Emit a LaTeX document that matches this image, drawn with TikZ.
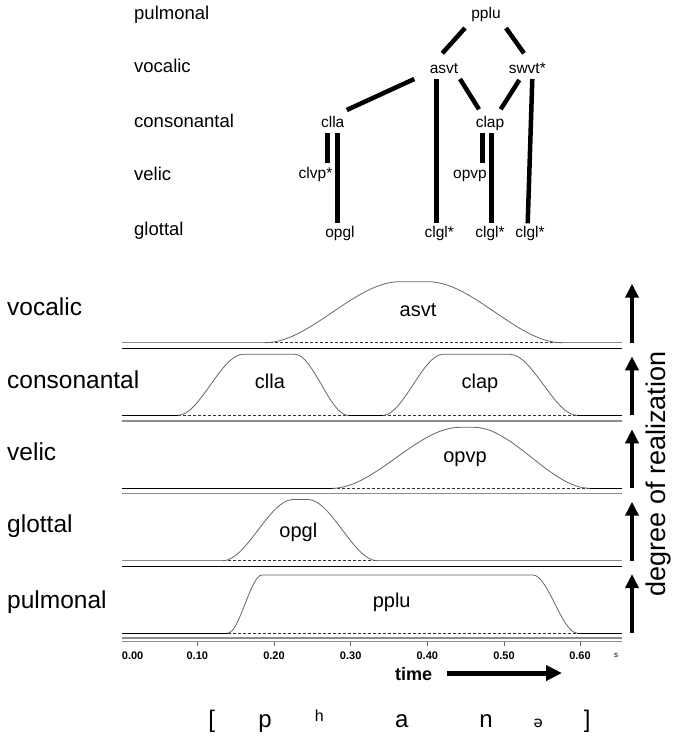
\documentclass[tikz,border=0pt]{standalone}
\usepackage{fontspec}
\setmainfont{Liberation Sans}
\newfontfamily\ipafont{DejaVu Sans}
\usetikzlibrary{arrows.meta}

\tikzset{
  treelab/.style={font=\fontsize{15.5}{15.5}\selectfont, anchor=base, inner sep=0pt},
  tierlab/.style={font=\fontsize{18.5}{18.5}\selectfont, anchor=base west, inner sep=0pt},
  link/.style={line width=4.5pt},
  panellab/.style={font=\fontsize{24.5}{25}\selectfont, anchor=base west, inner sep=0pt},
  gestlab/.style={font=\fontsize{20}{20}\selectfont, anchor=base, inner sep=0pt},
  curve/.style={draw=black!60, line width=0.8pt},
  flatblack/.style={draw=black, line width=0.8pt},
  flatgray/.style={draw=black!45, line width=1.4pt},
  rest/.style={draw=black!80, line width=0.7pt, dash pattern=on 3pt off 2pt},
  realarrow/.style={line width=4.5pt, -{Triangle[width=13pt,length=14pt]}},
  ticklab/.style={font=\fontsize{11}{11}\selectfont\bfseries, anchor=base, inner sep=0pt},
  tickmark/.style={draw=black!60, line width=0.8pt},
  phon/.style={font=\fontsize{24}{24}\selectfont, anchor=base, inner sep=0pt}
}

\begin{document}
\begin{tikzpicture}[x=1pt,y=-1pt]
\useasboundingbox[fill=white] (0,0) rectangle (676,737);

% ---------- tier names of the gesture tree ----------
\node[tierlab] (tPul) at (134,19.5) {pulmonal};
\node[tierlab] (tVoc) at (134,72) {vocalic};
\node[tierlab] (tCon) at (134,127) {consonantal};
\node[tierlab] (tVel) at (134,180) {velic};
\node[tierlab] (tGlo) at (134,235) {glottal};

% ---------- gesture tree ----------
\node[treelab] (pplu) at (486,18.5) {pplu};
\node[treelab] (asvt) at (444,73) {asvt};
\node[treelab] (swvt) at (527.3,73) {swvt*};
\node[treelab] (clla) at (332.7,127) {clla};
\node[treelab] (clap) at (490,127) {clap};
\node[treelab] (clvp) at (315.5,178) {clvp*};
\node[treelab] (opvp) at (470,178) {opvp};
\node[treelab] (opgl) at (340,237) {opgl};
\node[treelab] (clglA) at (439.3,237) {clgl*};
\node[treelab] (clglB) at (490,237) {clgl*};
\node[treelab] (clglC) at (530,237) {clgl*};

\draw[link] ([shift={(-21,9.5)}]pplu.base) -- ([shift={(-1.7,-19.7)}]asvt.base);
\draw[link] ([shift={(20,9.5)}]pplu.base) -- ([shift={(-3.3,-19.7)}]swvt.base);
\draw[link] ([shift={(-29.7,6)}]asvt.base) -- ([shift={(14,-17)}]clla.base);
\draw[link] ([shift={(-7.3,6)}]asvt.base) -- ([shift={(-2.6,-13.7)}]clglA.base);
\draw[link] ([shift={(16,6)}]asvt.base) -- ([shift={(-11,-17.7)}]clap.base);
\draw[link] ([shift={(-8,7)}]swvt.base) -- ([shift={(10.7,-17.7)}]clap.base);
\draw[link] ([shift={(5,6)}]swvt.base) -- ([shift={(-2.3,-13.7)}]clglC.base);
\draw[link] ([shift={(-5,6.3)}]clla.base) -- ([shift={(12.2,-14.7)}]clvp.base);
\draw[link] ([shift={(4.6,6.3)}]clla.base) -- ([shift={(-2.7,-13.7)}]opgl.base);
\draw[link] ([shift={(-7.7,6.3)}]clap.base) -- ([shift={(12.3,-14.7)}]opvp.base);
\draw[link] ([shift={(1.3,6.3)}]clap.base) -- ([shift={(1.3,-13.7)}]clglB.base);

% ---------- gestural score: panel names ----------
\node[panellab] (pVoc) at (7,315) {vocalic};
\node[panellab] (pCon) at (7,388) {consonantal};
\node[panellab] (pVel) at (7,460.5) {velic};
\node[panellab] (pGlo) at (7,532.5) {glottal};
\node[panellab] (pPul) at (7,608) {pulmonal};

% vocalic panel (baseline 342.7)
\draw[flatgray] (122,342.7) -- (265,342.7);
\draw[flatgray] (562,342.7) -- (622,342.7);
\draw[rest] (265,342.7) -- (562,342.7);
\draw[curve] (265,342.7) .. controls (310,342.7) and (355,281.7) .. (400,281.7)
  -- (428,281.7) .. controls (472.7,281.7) and (517.3,342.7) .. (562,342.7);
\draw[flatblack] (122,348.5) -- (622,348.5);
\node[gestlab] (gAsvt) at (418,316.7) {asvt};

% consonantal panel (baseline 415.3)
\draw[flatblack] (122,415.3) -- (178,415.3);
\draw[flatblack] (348,415.3) -- (383,415.3);
\draw[flatblack] (577,415.3) -- (622,415.3);
\draw[rest] (178,415.3) -- (348,415.3);
\draw[rest] (383,415.3) -- (577,415.3);
\draw[curve] (178,415.3) .. controls (199.7,415.3) and (221.3,354.3) .. (243,354.3)
  -- (295,354.3) .. controls (312.7,354.3) and (330.3,415.3) .. (348,415.3);
\draw[curve] (383,415.3) .. controls (403,415.3) and (423,354.3) .. (443,354.3)
  -- (510,354.3) .. controls (532.3,354.3) and (554.7,415.3) .. (577,415.3);
\draw[flatgray] (122,421) -- (622,421);
\node[gestlab] (gClla) at (270,388) {clla};
\node[gestlab] (gClap) at (480,388) {clap};

% velic panel (baseline 488.3)
\draw[flatblack] (122,488.3) -- (332,488.3);
\draw[flatblack] (590,488.3) -- (622,488.3);
\draw[rest] (332,488.3) -- (590,488.3);
\draw[curve] (332,488.3) .. controls (374.7,488.3) and (417.3,427.3) .. (460,427.3)
  -- (474,427.3) .. controls (512.7,427.3) and (551.3,488.3) .. (590,488.3);
\draw[flatgray] (122,493.5) -- (622,493.5);
\node[gestlab] (gOpvp) at (465,462.5) {opvp};

% glottal panel (baseline 560.7)
\draw[flatgray] (122,560.7) -- (223,560.7);
\draw[flatgray] (377,560.7) -- (622,560.7);
\draw[rest] (223,560.7) -- (377,560.7);
\draw[curve] (223,560.7) .. controls (246.3,560.7) and (269.7,499.5) .. (293,499.5)
  -- (308,499.5) .. controls (331,499.5) and (354,560.7) .. (377,560.7);
\draw[flatblack] (122,566.2) -- (622,566.2);
\node[gestlab] (gOpgl) at (298.3,537.5) {opgl};

% pulmonal panel (baseline 633)
\draw[flatblack] (122,633) -- (228,633);
\draw[flatblack] (577,633) -- (622,633);
\draw[rest] (228,633) -- (577,633);
\draw[curve] (228,633) .. controls (239.3,633) and (250.7,575) .. (262,575)
  -- (533,575) .. controls (547.7,575) and (562.3,633) .. (577,633);
\draw[flatgray] (122,638) -- (622,638);
\draw[flatgray] (122,641.5) -- (622,641.5);
\node[gestlab] (gPplu) at (391.7,607) {pplu};

% ---------- time axis ----------
\node[ticklab, anchor=base west] (t0) at (121.7,659) {0.00};
\foreach \lab/\xx in {0.10/197.3, 0.20/274, 0.30/350.7, 0.40/427.3, 0.50/504, 0.60/580}{
  \draw[tickmark] (\xx,642) -- (\xx,646);
  \node[ticklab] (t\lab) at (\xx,659) {\lab};
}
\node[font=\fontsize{8}{8}\selectfont, anchor=base, inner sep=0pt] (sec) at (616,657) {s};

\node[font=\fontsize{18}{18}\selectfont\bfseries, anchor=base, inner sep=0pt] (timeLab) at (413.6,680) {time};
\coordinate (timeEnd) at (562,673);
\draw[line width=5pt, -{Triangle[width=15pt,length=16pt]}] ([xshift=15pt]timeLab.east |- timeEnd) -- (timeEnd);

% ---------- degree-of-realization arrows ----------
\foreach \b in {342.7, 415.3, 488.3, 560.7, 633}{
  \draw[realarrow] (632,\b) -- (632,\b-59);
}
\node[font=\fontsize{27}{27}\selectfont, rotate=90, inner sep=0pt] (dor) at (659,474) {degree of realization};

% ---------- transcription ----------
\node[phon] (brL) at (211.7,727) {[};
\node[phon] (segP) at (265,727) {p};
\node[phon, font=\fontsize{16}{16}\selectfont] (segH) at (319.3,721) {h};
\node[phon] (segA) at (401.7,727) {a};
\node[phon] (segN) at (486,727) {n};
\node[phon, font=\fontsize{15}{15}\ipafont] (segSchwa) at (538.3,727) {ə};
\node[phon] (brR) at (587.3,727) {]};
\end{tikzpicture}
\end{document}
